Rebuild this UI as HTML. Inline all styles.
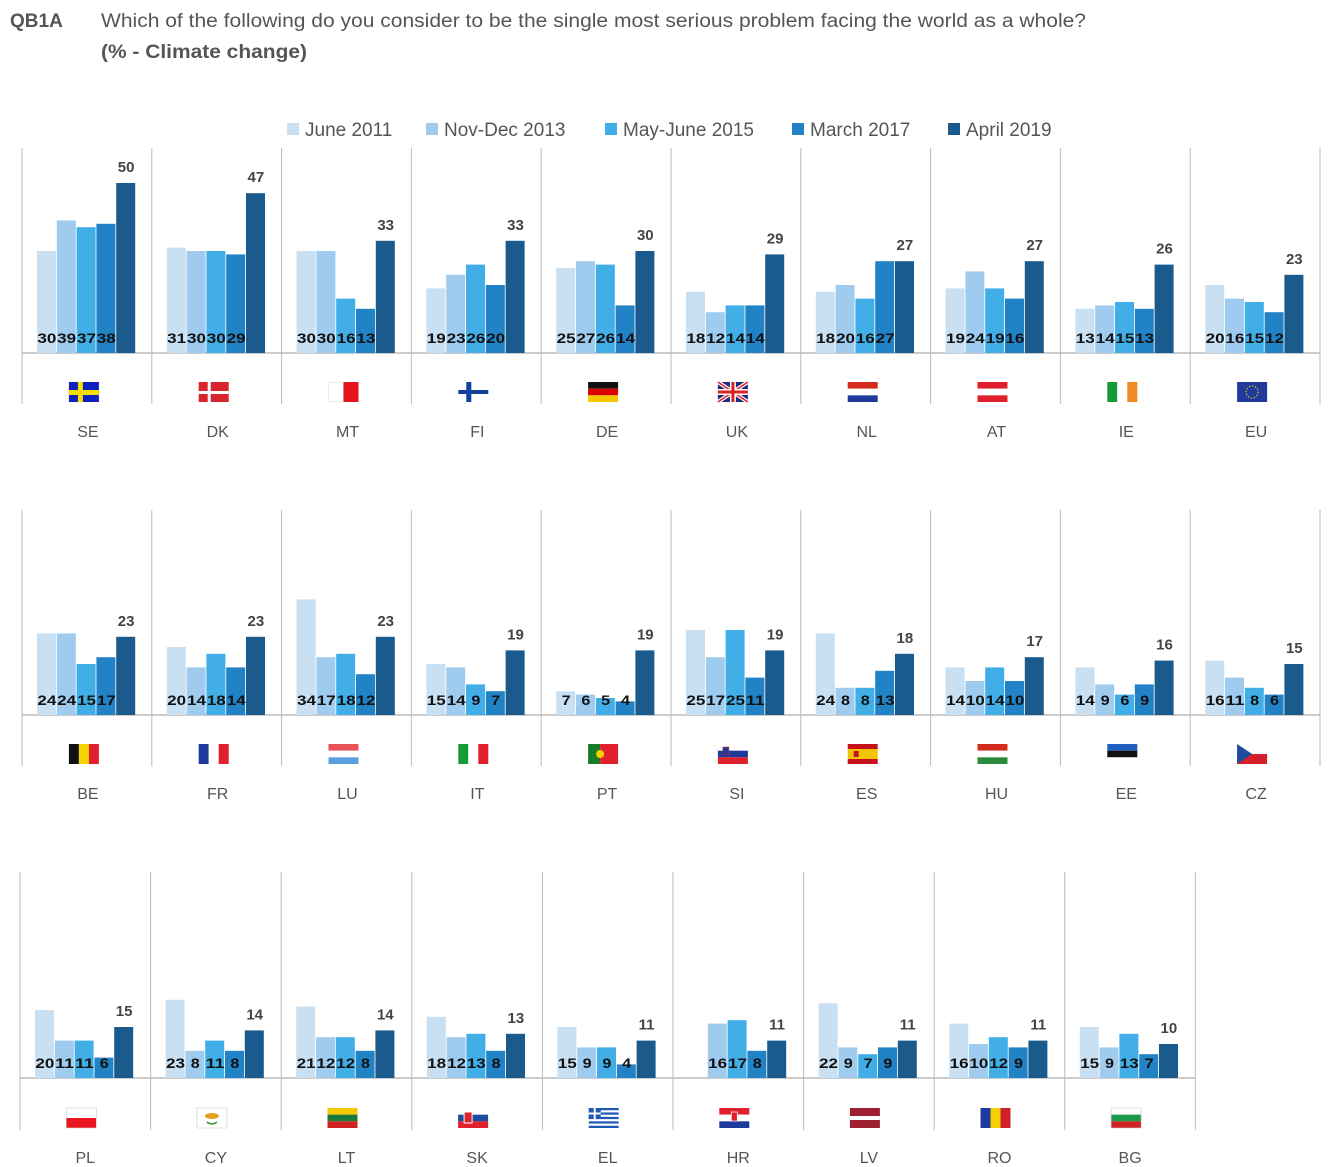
<!DOCTYPE html>
<html><head><meta charset="utf-8"><style>
body{margin:0;background:#fff;}
svg{display:block;font-family:"Liberation Sans",sans-serif;}
</style></head><body>
<svg id="c" width="1340" height="1167" viewBox="0 0 1340 1167">
<text x="10" y="27" font-size="19" font-weight="bold" fill="#555">QB1A</text>
<text x="101" y="27" font-size="19" fill="#555" textLength="985" lengthAdjust="spacingAndGlyphs">Which of the following do you consider to be the single most serious problem facing the world as a whole?</text>
<text x="101" y="58" font-size="19" font-weight="bold" fill="#555" textLength="206" lengthAdjust="spacingAndGlyphs">(% - Climate change)</text>
<g id="legend"></g>
<g id="panels"></g>
</svg>
<script>
const series=["June 2011","Nov-Dec 2013","May-June 2015","March 2017","April 2019"];
const colors=["#c9e0f3","#9fcbee","#41aee8","#2183c5","#1b5a8c"];
const countries=["SE","DK","MT","FI","DE","UK","NL","AT","IE","EU","BE","FR","LU","IT","PT","SI","ES","HU","EE","CZ","PL","CY","LT","SK","EL","HR","LV","RO","BG"];
const jun2011=[30,31,30,19,25,18,18,19,13,20,24,20,34,15,7,25,24,14,14,16,20,23,21,18,15,null,22,16,15];
const nov2013=[39,30,30,23,27,12,20,24,14,16,24,14,17,14,6,17,8,10,9,11,11,8,12,12,9,16,9,10,9];
const may2015=[37,30,16,26,26,14,16,19,15,15,15,18,18,9,5,25,8,14,6,8,11,11,12,13,9,17,7,12,13];
const mar2017=[38,29,13,20,14,14,27,16,13,12,17,14,12,7,4,11,13,10,9,6,6,8,8,8,4,8,9,9,7];
const apr2019=[50,47,33,33,30,29,27,27,26,23,23,23,23,19,19,19,18,17,16,15,15,14,14,13,11,11,11,11,10];
const allSeries=[jun2011,nov2013,may2015,mar2017,apr2019];
const NS="http://www.w3.org/2000/svg";
function mk(tag,attrs,parent){const e=document.createElementNS(NS,tag);for(const k in attrs)e.setAttribute(k,attrs[k]);parent.appendChild(e);return e;}
const svg=document.getElementById('c');
const lg=document.getElementById('legend');
const legX=[287,426,605,792,948];
series.forEach((s,i)=>{
  const g=mk('g',{},lg);
  
  
  mk('rect',{x:legX[i],y:123,width:12,height:12,fill:colors[i]},g);
  const t=mk('text',{x:legX[i]+18,y:136,'font-size':19,fill:'#555'},g);t.textContent=s;
});
const rows=[{base:353,top:148,bot:404,x0:22,w:129.8,n:10},{base:715,top:510,bot:766,x0:22,w:129.8,n:10},{base:1078,top:872,bot:1130,x0:20,w:130.6,n:9}];
const scale=3.4;
function yv(v,base){return base-v*scale;}
const panels=document.getElementById('panels');
function flag(code,cx,cy,g){
  const x=cx-15,y=cy-10,W=30,H=20;
  const r=(a,b,c,d,f)=>mk('rect',{x:a,y:b,width:c,height:d,fill:f},g);
  const h3=(c1,c2,c3)=>{r(x,y,W,H/3,c1);r(x,y+H/3,W,H/3,c2);r(x,y+2*H/3,W,H/3,c3);};
  const v3=(c1,c2,c3)=>{r(x,y,W/3,H,c1);r(x+W/3,y,W/3,H,c2);r(x+2*W/3,y,W/3,H,c3);};
  switch(code){
    case 'SE':r(x,y,W,H,'#1020c0');r(x+9,y,5,H,'#f5e000');r(x,y+8,W,5,'#f5e000');break;
    case 'DK':r(x,y,W,H,'#d8242c');r(x+9,y,3,H,'#fff');r(x,y+9,W,3,'#fff');break;
    case 'MT':r(x,y,W,H,'#ddd');r(x+0.5,y+0.5,14,H-1,'#fff');r(x+15,y,15,H,'#e8131b');break;
    case 'FI':r(x,y,W,H,'#fff');r(x+8,y,5,H,'#1040a0');r(x,y+8,W,4,'#1040a0');break;
    case 'DE':h3('#111','#d00','#f5c800');break;
    case 'UK':r(x,y,W,H,'#1a2a80');mk('path',{d:`M${x} ${y}L${x+W} ${y+H}M${x+W} ${y}L${x} ${y+H}`,stroke:'#fff','stroke-width':4},g);mk('path',{d:`M${x} ${y}L${x+W} ${y+H}M${x+W} ${y}L${x} ${y+H}`,stroke:'#d22','stroke-width':1.5},g);r(x+12,y,6,H,'#fff');r(x,y+7,W,6,'#fff');r(x+13.5,y,3,H,'#d22');r(x,y+8.5,W,3,'#d22');break;
    case 'NL':h3('#d52b1e','#fff','#1e3a9a');break;
    case 'AT':h3('#e0202c','#fff','#e0202c');break;
    case 'IE':v3('#159a3a','#fff','#f08a24');break;
    case 'EU':r(x,y,W,H,'#1f3a9a');mk('circle',{cx:cx,cy:cy,r:6,fill:'none',stroke:'#f5d000','stroke-width':1,'stroke-dasharray':'1.5 1.6'},g);break;
    case 'BE':v3('#111','#f5d500','#e0202c');break;
    case 'FR':v3('#1e3a9a','#fff','#e0202c');break;
    case 'LU':h3('#e8505a','#fff','#5aa0e0');break;
    case 'IT':v3('#159a3a','#fff','#e0202c');break;
    case 'PT':r(x,y,12,H,'#1a7a2a');r(x+12,y,18,H,'#e0202c');mk('circle',{cx:x+12,cy:cy,r:4,fill:'#f5d000'},g);break;
    case 'SI':h3('#fff','#1e3a9a','#e0202c');mk('rect',{x:x+5,y:y+3,width:6,height:8,fill:'#1e3a9a',stroke:'#e0202c','stroke-width':0.5},g);break;
    case 'ES':r(x,y,W,5,'#c8101e');r(x,y+5,W,10,'#f5c400');r(x,y+15,W,5,'#c8101e');r(x+6,y+7,5,6,'#c8101e');break;
    case 'HU':h3('#d52b1e','#fff','#2a8a3a');break;
    case 'EE':h3('#2060c0','#111','#fff');r(x,y,W,H,'none');break;
    case 'CZ':r(x,y,W,H/2,'#fff');r(x,y+H/2,W,H/2,'#d5202c');mk('path',{d:`M${x} ${y}L${x+15} ${cy}L${x} ${y+H}Z`,fill:'#1e4aa0'},g);break;
    case 'PL':r(x,y,W,H/2,'#fff');r(x,y+H/2,W,H/2,'#e8141e');mk('rect',{x:x,y:y,width:W,height:H,fill:'none',stroke:'#ccc','stroke-width':0.6},g);break;
    case 'CY':mk('rect',{x:x,y:y,width:W,height:H,fill:'#fff',stroke:'#ccc','stroke-width':0.6},g);mk('ellipse',{cx:cx,cy:cy-2,rx:7,ry:3,fill:'#e8a020'},g);mk('path',{d:`M${cx-5} ${cy+4}Q${cx} ${cy+8} ${cx+5} ${cy+4}`,stroke:'#3a9a3a',fill:'none','stroke-width':1.5},g);break;
    case 'LT':h3('#f5c800','#1a7a3a','#d02020');break;
    case 'SK':h3('#fff','#1e4aa0','#e0202c');mk('rect',{x:x+6,y:y+4,width:8,height:11,fill:'#e0202c',stroke:'#fff','stroke-width':1},g);break;
    case 'EL':r(x,y,W,H,'#fff');for(let i=0;i<9;i+=2)r(x,y+i*H/9,W,H/9,'#1e5ab4');r(x,y,12,11,'#1e5ab4');r(x+5,y,2,11,'#fff');r(x,y+4.5,12,2,'#fff');break;
    case 'HR':h3('#e0202c','#fff','#1e3a9a');mk('rect',{x:cx-3,y:y+4,width:6,height:9,fill:'#e0202c',stroke:'#fff','stroke-width':0.7},g);break;
    case 'LV':r(x,y,W,H,'#9e2030');r(x,y+8,W,4,'#fff');break;
    case 'RO':v3('#1e3aa0','#f5d000','#d0202c');break;
    case 'BG':h3('#fff','#1a9a4a','#d02020');mk('rect',{x:x,y:y,width:W,height:H,fill:'none',stroke:'#ccc','stroke-width':0.6},g);break;
  }
}
let idx=0;
rows.forEach((row,ri)=>{
  // baseline
  const bl=mk('line',{x1:row.x0,x2:row.x0+row.w*row.n,y1:row.base,y2:row.base,stroke:'#999','stroke-width':1},panels);
  
  
  for(let p=0;p<=row.n;p++){
    const x=row.x0+p*row.w;
    const d=mk('line',{x1:x,x2:x,y1:row.top,y2:row.bot,stroke:'#bbb','stroke-width':1},panels);
    
    
  }
  for(let p=0;p<row.n;p++,idx++){
    const c=countries[idx];
    const px=row.x0+p*row.w;
    const g=mk('g',{},panels);
    
    
    const bw=19.8,bx0=px+15;
    allSeries.forEach((arr,si)=>{
      const v=arr[idx];
      if(v===null)return;
      const x=bx0+si*bw,y=yv(v,row.base);
      const b=mk('rect',{x:x,y:y,width:bw-0.8,height:row.base-y,fill:colors[si]},g);
      
      
      if(si<4){
        const t=mk('text',{x:x+bw/2,y:row.base-10,'text-anchor':'middle','font-size':14,'font-weight':'bold',fill:'#111',textLength:String(v).length>1?19:9,lengthAdjust:'spacingAndGlyphs'},g);
        t.textContent=v;
        
        
      }else{
        const t=mk('text',{x:x+bw/2,y:y-11,'text-anchor':'middle','font-size':15,'font-weight':'bold',fill:'#444'},g);
        t.textContent=v;
        
        
      }
    });
    const cx=px+row.w/2+(ri===2?0:1);
    const fg=mk('g',{},g);
    
    
    flag(c,cx-4,row.bot-12,fg);
    const lt=mk('text',{x:cx,y:row.bot+33,'text-anchor':'middle','font-size':16,fill:'#555'},g);
    lt.textContent=c;
    
    
  }
});
</script>
</body></html>
